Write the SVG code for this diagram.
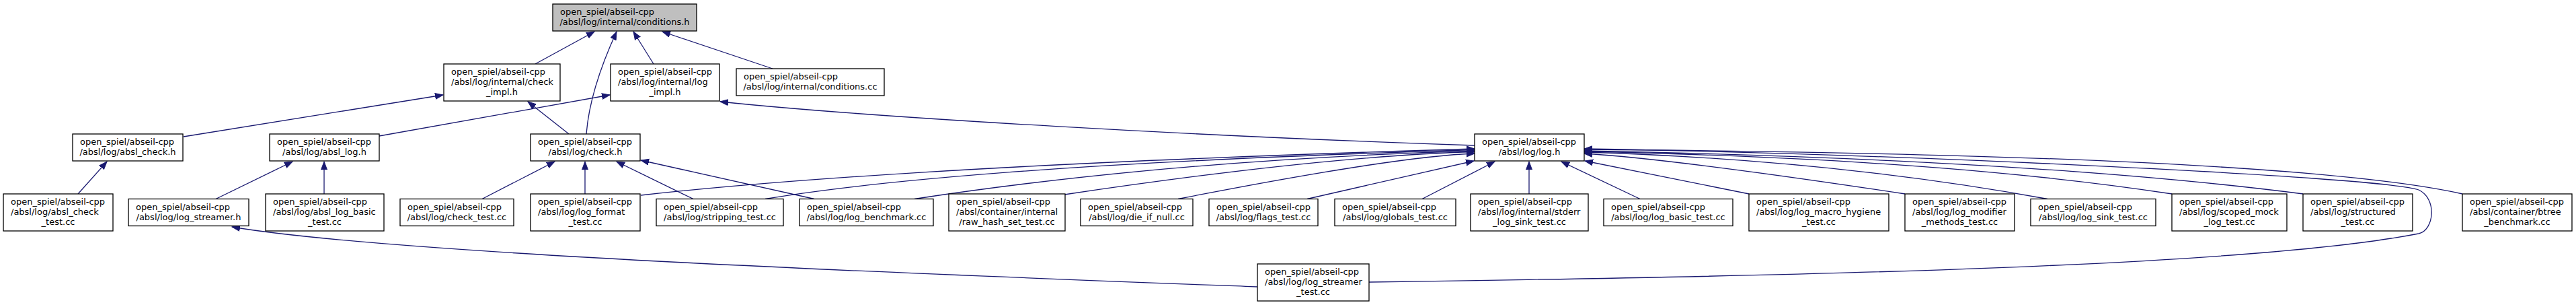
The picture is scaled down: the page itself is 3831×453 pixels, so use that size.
<svg xmlns="http://www.w3.org/2000/svg" width="3831" height="453" viewBox="0 0 3831 453">
<style>
.n rect{fill:#fff;stroke:#000;stroke-width:1.3}
.n.root rect{fill:#bfbfbf}
.n text{font-family:"DejaVu Sans",sans-serif;font-size:13px;fill:#000}
.n text.c{text-anchor:middle}
#edges path{fill:none;stroke:#191970;stroke-width:1.3;marker-end:url(#arr)}
</style>
<defs>
<marker id="arr" markerUnits="userSpaceOnUse" markerWidth="14" markerHeight="12" refX="12" refY="5" orient="auto">
<path d="M0,0.5 L12,5 L0,9.5 Z" fill="#191970" stroke="#191970" stroke-width="1"/>
</marker>
</defs>
<rect width="3831" height="453" fill="#fff"/>
<g id="edges">
<path d="M796,95 L884,47"/>
<path d="M872,199 C875,160 888,110 917,47"/>
<path d="M972,95 L942,47"/>
<path d="M1149,102 L985,47"/>
<path d="M273,203 L659,141"/>
<path d="M846,199 L785,151"/>
<path d="M564,202 L907,141"/>
<path d="M2193,216 C1800,203 1300,175 1071,151"/>
<path d="M116,288 L159,240"/>
<path d="M321,295.5 L435,240"/>
<path d="M482,288 L482,240"/>
<path d="M717,295.5 L825,240"/>
<path d="M870,288 L870,240"/>
<path d="M1031,295.5 L917,240"/>
<path d="M1211,295.5 L953,238"/>
<path d="M953,290 Q1350,246 2193,221"/>
<path d="M1138,295.5 Q1442,245 2193,222.5"/>
<path d="M1360,295.5 Q1737,238 2193,224"/>
<path d="M1583,289 Q1966,232 2193,225.5"/>
<path d="M1752,295.5 Q2077,232 2193,228"/>
<path d="M1944,295.5 L2192,239"/>
<path d="M2115,295.5 L2223,240"/>
<path d="M2274,288 L2274,240"/>
<path d="M2439,295.5 L2322,240"/>
<path d="M2601,288 L2357,239"/>
<path d="M2833,288 Q2488,236 2356,228"/>
<path d="M3045,295.5 Q2723,237 2356,226"/>
<path d="M3230,288 Q2891,236 2356,225"/>
<path d="M3425,288 Q3029,237 2356,224"/>
<path d="M3662,288 Q3400,230 2356,222"/>
<path d="M2036,419 C2700,410 3350,395 3597,347 C3620,342 3625,295 3597,282 C3540,262 2800,228 2356,221"/>
<path d="M1870,426 C1500,412 600,380 345,337"/>
</g>
<g id="root" class="n root"><rect x="822" y="6" width="214" height="40"/><text x="833" y="22">open_spiel/abseil-cpp</text><text class="c" x="929" y="37">/absl/log/internal/conditions.h</text></g>
<g id="check_impl" class="n"><rect x="660" y="95" width="173" height="55"/><text x="671" y="111">open_spiel/abseil-cpp</text><text x="671" y="126">/absl/log/internal/check</text><text class="c" x="746.5" y="141">_impl.h</text></g>
<g id="log_impl" class="n"><rect x="908" y="95" width="162" height="55"/><text x="919" y="111">open_spiel/abseil-cpp</text><text x="919" y="126">/absl/log/internal/log</text><text class="c" x="989" y="141">_impl.h</text></g>
<g id="conditions_cc" class="n"><rect x="1095" y="102" width="220" height="40"/><text x="1106" y="118">open_spiel/abseil-cpp</text><text class="c" x="1205" y="133">/absl/log/internal/conditions.cc</text></g>
<g id="absl_check_h" class="n"><rect x="108" y="199" width="164" height="40"/><text x="119" y="215">open_spiel/abseil-cpp</text><text class="c" x="190" y="230">/absl/log/absl_check.h</text></g>
<g id="absl_log_h" class="n"><rect x="401" y="199" width="163" height="40"/><text x="412" y="215">open_spiel/abseil-cpp</text><text class="c" x="482.5" y="230">/absl/log/absl_log.h</text></g>
<g id="check_h" class="n"><rect x="789" y="199" width="163" height="40"/><text x="800" y="215">open_spiel/abseil-cpp</text><text class="c" x="870.5" y="230">/absl/log/check.h</text></g>
<g id="log_h" class="n"><rect x="2193" y="199" width="163" height="40"/><text x="2204" y="215">open_spiel/abseil-cpp</text><text class="c" x="2274.5" y="230">/absl/log/log.h</text></g>
<g id="absl_check_test" class="n"><rect x="5" y="288" width="163" height="55"/><text x="16" y="304">open_spiel/abseil-cpp</text><text x="16" y="319">/absl/log/absl_check</text><text class="c" x="86.5" y="334">_test.cc</text></g>
<g id="log_streamer_h" class="n"><rect x="191" y="295.5" width="179" height="40"/><text x="202" y="311.5">open_spiel/abseil-cpp</text><text class="c" x="280.5" y="326.5">/absl/log/log_streamer.h</text></g>
<g id="absl_log_basic_test" class="n"><rect x="395" y="288" width="176" height="55"/><text x="406" y="304">open_spiel/abseil-cpp</text><text x="406" y="319">/absl/log/absl_log_basic</text><text class="c" x="483" y="334">_test.cc</text></g>
<g id="check_test" class="n"><rect x="595" y="295.5" width="169" height="40"/><text x="606" y="311.5">open_spiel/abseil-cpp</text><text class="c" x="679.5" y="326.5">/absl/log/check_test.cc</text></g>
<g id="log_format_test" class="n"><rect x="789" y="288" width="163" height="55"/><text x="800" y="304">open_spiel/abseil-cpp</text><text x="800" y="319">/absl/log/log_format</text><text class="c" x="870.5" y="334">_test.cc</text></g>
<g id="stripping_test" class="n"><rect x="976" y="295.5" width="189" height="40"/><text x="987" y="311.5">open_spiel/abseil-cpp</text><text class="c" x="1070.5" y="326.5">/absl/log/stripping_test.cc</text></g>
<g id="log_benchmark" class="n"><rect x="1189" y="295.5" width="199" height="40"/><text x="1200" y="311.5">open_spiel/abseil-cpp</text><text class="c" x="1288.5" y="326.5">/absl/log/log_benchmark.cc</text></g>
<g id="raw_hash_set_test" class="n"><rect x="1411" y="288" width="173" height="55"/><text x="1422" y="304">open_spiel/abseil-cpp</text><text x="1422" y="319">/absl/container/internal</text><text class="c" x="1497.5" y="334">/raw_hash_set_test.cc</text></g>
<g id="die_if_null" class="n"><rect x="1607" y="295.5" width="167" height="40"/><text x="1618" y="311.5">open_spiel/abseil-cpp</text><text class="c" x="1690.5" y="326.5">/absl/log/die_if_null.cc</text></g>
<g id="flags_test" class="n"><rect x="1798" y="295.5" width="162" height="40"/><text x="1809" y="311.5">open_spiel/abseil-cpp</text><text class="c" x="1879" y="326.5">/absl/log/flags_test.cc</text></g>
<g id="globals_test" class="n"><rect x="1985" y="295.5" width="180" height="40"/><text x="1996" y="311.5">open_spiel/abseil-cpp</text><text class="c" x="2075" y="326.5">/absl/log/globals_test.cc</text></g>
<g id="stderr_log_sink_test" class="n"><rect x="2187" y="288" width="175" height="55"/><text x="2198" y="304">open_spiel/abseil-cpp</text><text x="2198" y="319">/absl/log/internal/stderr</text><text class="c" x="2274.5" y="334">_log_sink_test.cc</text></g>
<g id="log_basic_test" class="n"><rect x="2385" y="295.5" width="192" height="40"/><text x="2396" y="311.5">open_spiel/abseil-cpp</text><text class="c" x="2481" y="326.5">/absl/log/log_basic_test.cc</text></g>
<g id="log_macro_hygiene_test" class="n"><rect x="2601" y="288" width="208" height="55"/><text x="2612" y="304">open_spiel/abseil-cpp</text><text x="2612" y="319">/absl/log/log_macro_hygiene</text><text class="c" x="2705" y="334">_test.cc</text></g>
<g id="log_modifier_methods_test" class="n"><rect x="2833" y="288" width="163" height="55"/><text x="2844" y="304">open_spiel/abseil-cpp</text><text x="2844" y="319">/absl/log/log_modifier</text><text class="c" x="2914.5" y="334">_methods_test.cc</text></g>
<g id="log_sink_test" class="n"><rect x="3020" y="295.5" width="186" height="40"/><text x="3031" y="311.5">open_spiel/abseil-cpp</text><text class="c" x="3113" y="326.5">/absl/log/log_sink_test.cc</text></g>
<g id="scoped_mock_log_test" class="n"><rect x="3230" y="288" width="171" height="55"/><text x="3241" y="304">open_spiel/abseil-cpp</text><text x="3241" y="319">/absl/log/scoped_mock</text><text class="c" x="3315.5" y="334">_log_test.cc</text></g>
<g id="structured_test" class="n"><rect x="3425" y="288" width="163" height="55"/><text x="3436" y="304">open_spiel/abseil-cpp</text><text x="3436" y="319">/absl/log/structured</text><text class="c" x="3506.5" y="334">_test.cc</text></g>
<g id="btree_benchmark" class="n"><rect x="3662" y="288" width="163" height="55"/><text x="3673" y="304">open_spiel/abseil-cpp</text><text x="3673" y="319">/absl/container/btree</text><text class="c" x="3743.5" y="334">_benchmark.cc</text></g>
<g id="log_streamer_test" class="n"><rect x="1870" y="392" width="166" height="55"/><text x="1881" y="408">open_spiel/abseil-cpp</text><text x="1881" y="423">/absl/log/log_streamer</text><text class="c" x="1953" y="438">_test.cc</text></g>
</svg>
